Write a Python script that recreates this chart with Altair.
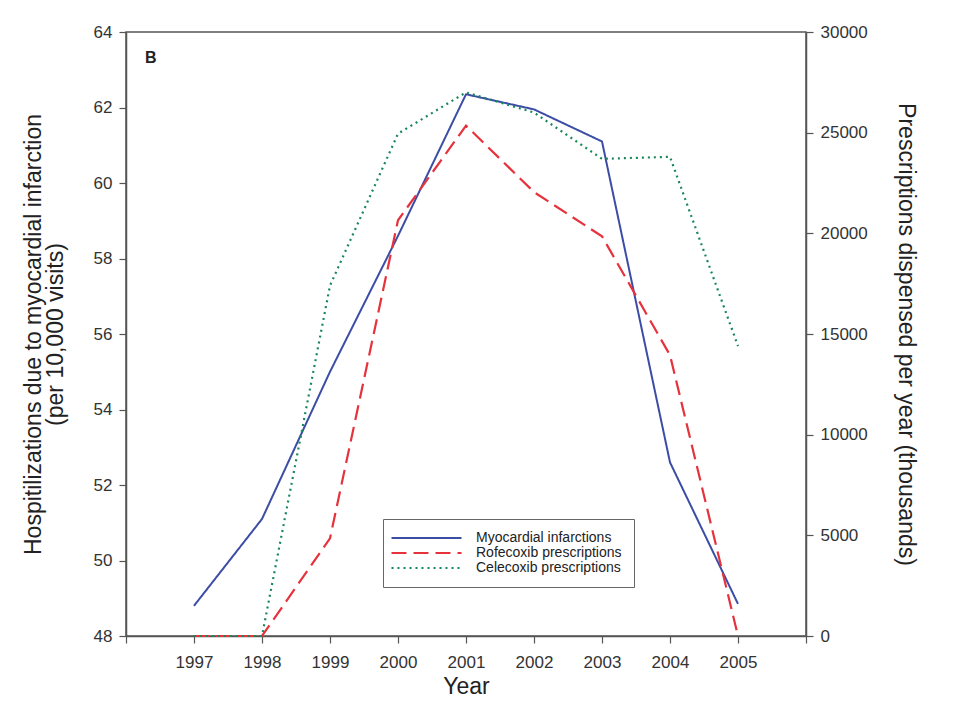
import altair as alt
import pandas as pd

years = [1997, 1998, 1999, 2000, 2001, 2002, 2003, 2004, 2005]
mi_rate = [48.8, 51.1, 55.0, 58.6, 62.35, 61.95, 61.1, 52.6, 48.85]
rofecoxib = [0, 0, 4850, 20650, 25350, 22050, 19850, 13950, 0]
celecoxib = [0, 0, 17400, 24950, 27000, 26000, 23700, 23800, 14400]

series_names = ["Myocardial infarctions", "Rofecoxib prescriptions", "Celecoxib prescriptions"]
series_colors = ["#3c4da5", "#e5323c", "#17875a"]
series_dashes = [[1, 0], [15, 7], [2, 4]]

x_ticks = list(range(1996, 2007))
left_ticks = list(range(48, 65, 2))
right_ticks = list(range(0, 30001, 5000))

df_mi = pd.DataFrame({"Year": years, "value": mi_rate, "series": series_names[0]})
df_rx = pd.concat([
    pd.DataFrame({"Year": years, "value": rofecoxib, "series": series_names[1]}),
    pd.DataFrame({"Year": years, "value": celecoxib, "series": series_names[2]}),
])

FONT = "Liberation Sans"

color_scale = alt.Scale(domain=series_names, range=series_colors)
dash_scale = alt.Scale(domain=series_names, range=series_dashes)

legend = alt.Legend(
    title=None, orient="none", legendX=257, legendY=487,
    symbolType="M-3,0H17", symbolSize=49, symbolStrokeWidth=2,
    labelFont=FONT, labelFontSize=14, labelColor="#222",
    strokeColor="#666", padding=12, rowPadding=1, labelOffset=67,
    fillColor="white",
)

x_enc = alt.X(
    "Year:Q",
    scale=alt.Scale(domain=[1996, 2006], nice=False, zero=False),
    axis=alt.Axis(
        values=x_ticks, format="d", grid=False, title="Year",
        labelExpr="(datum.value == 1996 || datum.value == 2006) ? '' : datum.label",
    ),
)

mi_layer = alt.Chart(df_mi).mark_line(strokeWidth=2).encode(
    x=x_enc,
    y=alt.Y(
        "value:Q",
        scale=alt.Scale(domain=[48, 64], nice=False, zero=False),
        axis=alt.Axis(
            orient="left", values=left_ticks, grid=False,
            title=["Hospitilizations due to myocardial infarction", "(per 10,000 visits)"],
            titlePadding=26, titleLineHeight=22,
        ),
    ),
    color=alt.Color("series:N", scale=color_scale, legend=legend),
    strokeDash=alt.StrokeDash("series:N", scale=dash_scale, legend=legend),
)

rx_layer = alt.Chart(df_rx).mark_line(strokeWidth=2.2).encode(
    x=x_enc,
    y=alt.Y(
        "value:Q",
        scale=alt.Scale(domain=[0, 30000], nice=False),
        axis=alt.Axis(
            orient="right", values=right_ticks, format="d", grid=False,
            title="Prescriptions dispensed per year (thousands)",
            titlePadding=26,
        ),
    ),
    color=alt.Color("series:N", scale=color_scale, legend=legend),
    strokeDash=alt.StrokeDash("series:N", scale=dash_scale, legend=legend),
)

label_b = alt.Chart(pd.DataFrame({"t": ["B"]})).mark_text(
    font=FONT, fontSize=16, fontWeight="bold", align="left", baseline="middle", color="#222"
).encode(text="t:N", x=alt.value(19), y=alt.value(26))

chart = alt.layer(mi_layer, rx_layer, label_b).resolve_scale(y="independent").properties(
    width=680, height=604, background="white",
    padding={"top": 15, "left": 14, "right": 5, "bottom": 5},
).configure_axis(
    labelFont=FONT, titleFont=FONT, labelFontSize=17, titleFontSize=23,
    titleFontWeight="normal", labelColor="#333", titleColor="#222",
    domainColor="#555", tickColor="#555", tickSize=7, labelPadding=7,
    domainWidth=1.5, tickWidth=1.2,
).configure_axisX(titlePadding=5, labelPadding=11).configure_view(
    stroke="#555", strokeWidth=1.5
)

chart.save("out.html", embed_options={"renderer": "svg", "actions": False})
